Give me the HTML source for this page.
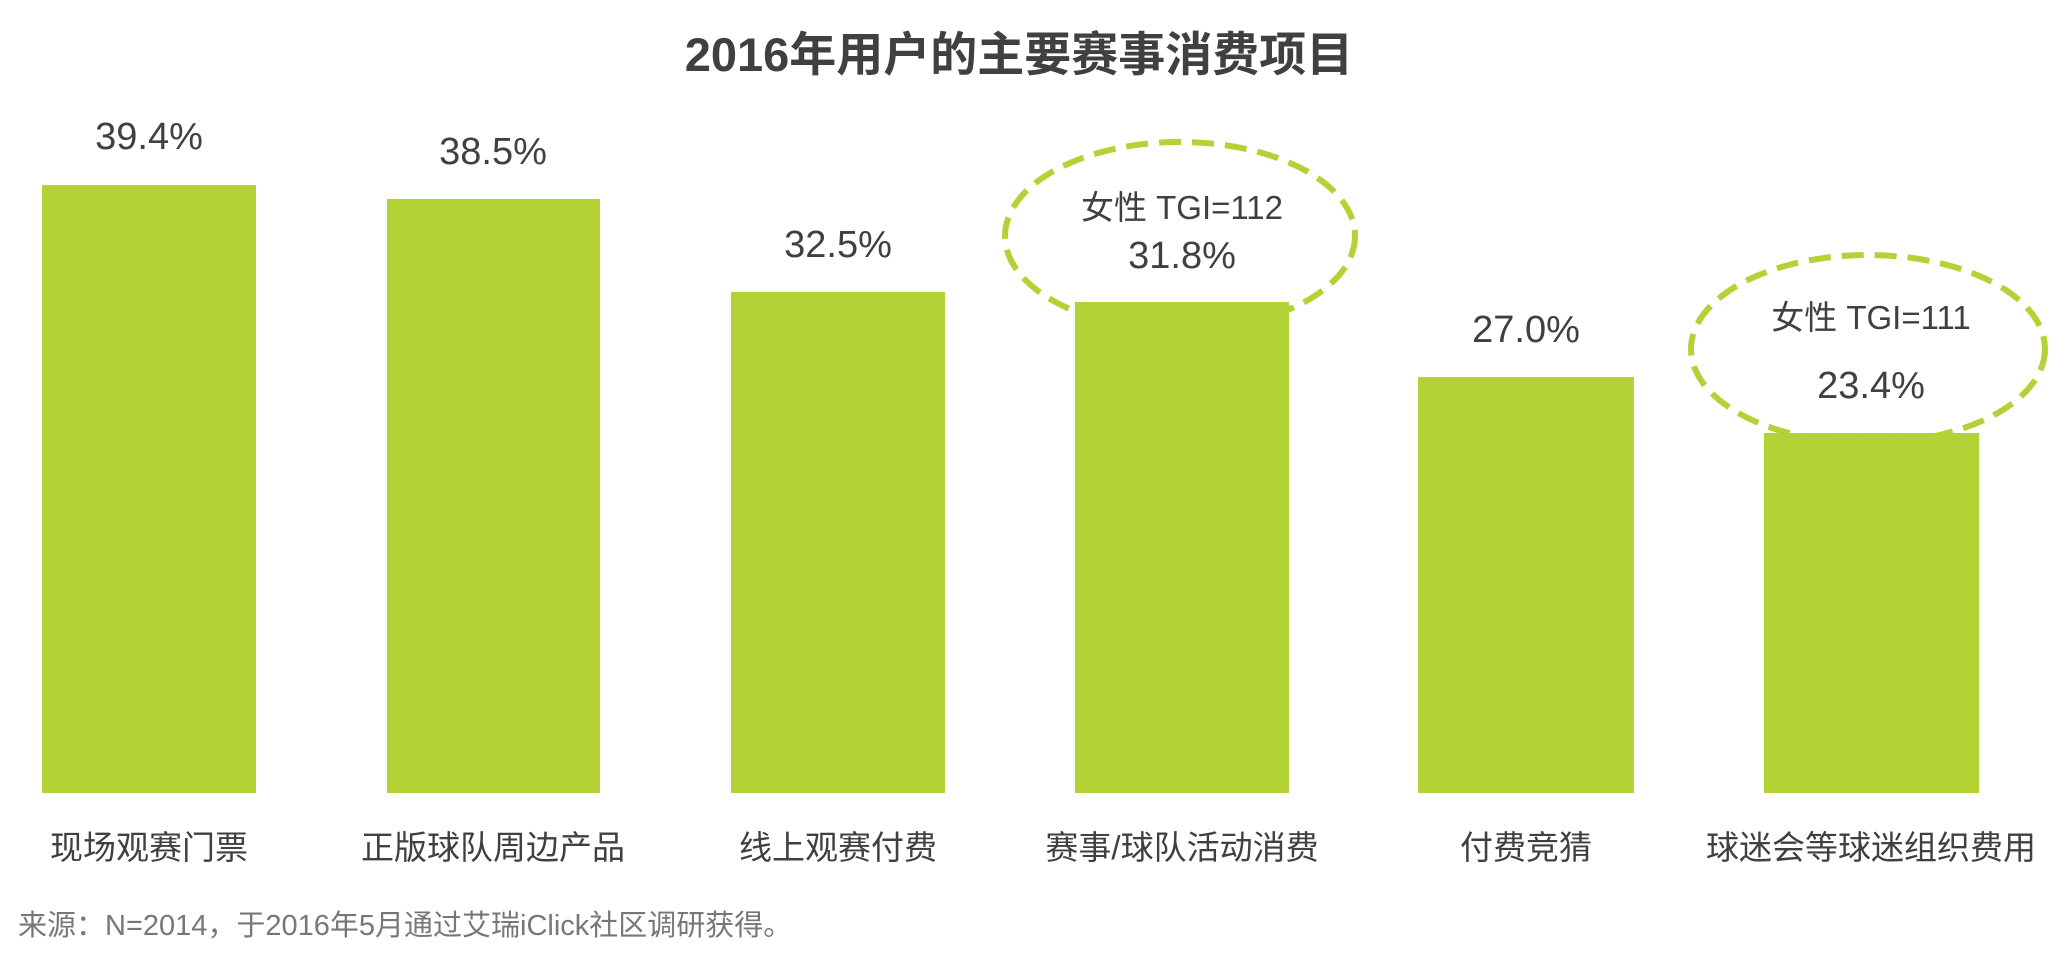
<!DOCTYPE html>
<html><head><meta charset="utf-8"><style>
body{margin:0;width:2069px;height:955px;background:#fff;overflow:hidden}
svg text{font-family:"Liberation Sans","Noto Sans CJK SC",sans-serif}
</style></head><body>
<svg width="2069" height="955" xmlns="http://www.w3.org/2000/svg">
<text x="1019" y="71" text-anchor="middle" font-size="47" font-weight="bold" fill="#404040">2016年用户的主要赛事消费项目</text>
<g fill="#b2d235">
<rect x="42" y="185" width="214" height="608"/>
<rect x="387" y="199" width="213" height="594"/>
<rect x="731" y="292" width="214" height="501"/>
<rect x="1075" y="302" width="214" height="491"/>
<rect x="1418" y="377" width="216" height="416"/>
<rect x="1764" y="433" width="215" height="360"/>
</g>
<g fill="none" stroke="#b2d235" stroke-width="6" stroke-dasharray="22 11">
<ellipse cx="1180" cy="236" rx="175" ry="94"/>
<ellipse cx="1868" cy="349" rx="177" ry="94"/>
</g>
<g font-size="38" fill="#404040" text-anchor="middle">
<text x="149" y="149">39.4%</text>
<text x="493" y="164">38.5%</text>
<text x="838" y="257">32.5%</text>
<text x="1182" y="268">31.8%</text>
<text x="1526" y="342">27.0%</text>
<text x="1871" y="398">23.4%</text>
</g>
<g font-size="33" fill="#404040" text-anchor="middle">
<text x="1182" y="219">女性 TGI=112</text>
<text x="1871" y="329">女性 TGI=111</text>
</g>
<g font-size="33" fill="#404040" text-anchor="middle">
<text x="149" y="859">现场观赛门票</text>
<text x="493" y="859">正版球队周边产品</text>
<text x="838" y="859">线上观赛付费</text>
<text x="1182" y="859">赛事/球队活动消费</text>
<text x="1526" y="859">付费竞猜</text>
<text x="1871" y="859">球迷会等球迷组织费用</text>
</g>
<text x="18" y="935" font-size="29" fill="#777">来源：N=2014，于2016年5月通过艾瑞iClick社区调研获得。</text>
</svg>
</body></html>
